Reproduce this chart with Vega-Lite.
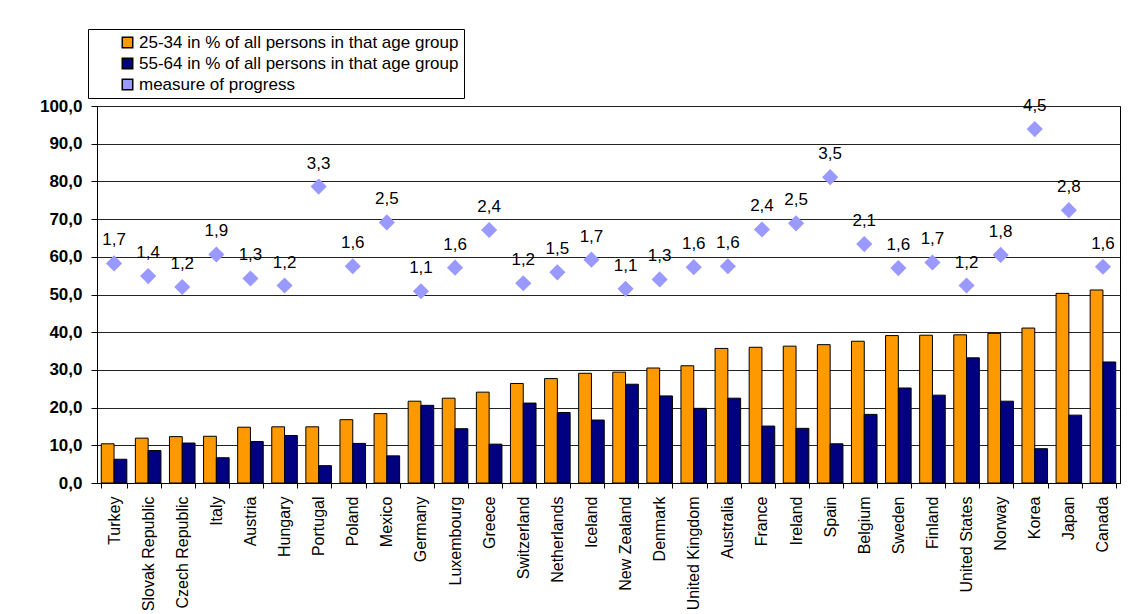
{
  "$schema": "https://vega.github.io/schema/vega-lite/v6.json",
  "autosize": "none",
  "width": 1023,
  "height": 377,
  "padding": {"left": 97, "top": 106, "right": 14, "bottom": 131},
  "background": "white",
  "config": {
    "locale": {"number": {"decimal": ",", "thousands": ".", "grouping": [3], "currency": ["", " €"]}},
    "font": "Liberation Sans",
    "view": {"stroke": "black", "strokeWidth": 1}
  },
  "data": {
    "values": [
      {"country": "Turkey", "a2534": 10.4, "a5564": 6.3, "progress": 1.66},
      {"country": "Slovak Republic", "a2534": 11.9, "a5564": 8.6, "progress": 1.39},
      {"country": "Czech Republic", "a2534": 12.3, "a5564": 10.6, "progress": 1.16},
      {"country": "Italy", "a2534": 12.4, "a5564": 6.7, "progress": 1.85},
      {"country": "Austria", "a2534": 14.8, "a5564": 11.0, "progress": 1.34},
      {"country": "Hungary", "a2534": 14.9, "a5564": 12.6, "progress": 1.19},
      {"country": "Portugal", "a2534": 14.9, "a5564": 4.6, "progress": 3.29},
      {"country": "Poland", "a2534": 16.8, "a5564": 10.5, "progress": 1.6},
      {"country": "Mexico", "a2534": 18.4, "a5564": 7.2, "progress": 2.53},
      {"country": "Germany", "a2534": 21.7, "a5564": 20.6, "progress": 1.07},
      {"country": "Luxembourg", "a2534": 22.5, "a5564": 14.4, "progress": 1.57},
      {"country": "Greece", "a2534": 24.1, "a5564": 10.3, "progress": 2.37},
      {"country": "Switzerland", "a2534": 26.4, "a5564": 21.2, "progress": 1.24},
      {"country": "Netherlands", "a2534": 27.7, "a5564": 18.7, "progress": 1.47},
      {"country": "Iceland", "a2534": 29.1, "a5564": 16.7, "progress": 1.74},
      {"country": "New Zealand", "a2534": 29.4, "a5564": 26.2, "progress": 1.12},
      {"country": "Denmark", "a2534": 30.5, "a5564": 23.1, "progress": 1.32},
      {"country": "United Kingdom", "a2534": 31.1, "a5564": 19.8, "progress": 1.58},
      {"country": "Australia", "a2534": 35.7, "a5564": 22.5, "progress": 1.6},
      {"country": "France", "a2534": 36.0, "a5564": 15.1, "progress": 2.38},
      {"country": "Ireland", "a2534": 36.3, "a5564": 14.5, "progress": 2.51},
      {"country": "Spain", "a2534": 36.7, "a5564": 10.4, "progress": 3.49},
      {"country": "Belgium", "a2534": 37.6, "a5564": 18.2, "progress": 2.07},
      {"country": "Sweden", "a2534": 39.1, "a5564": 25.2, "progress": 1.56},
      {"country": "Finland", "a2534": 39.2, "a5564": 23.3, "progress": 1.68},
      {"country": "United States", "a2534": 39.3, "a5564": 33.2, "progress": 1.19},
      {"country": "Norway", "a2534": 39.7, "a5564": 21.7, "progress": 1.84},
      {"country": "Korea", "a2534": 41.1, "a5564": 9.1, "progress": 4.51},
      {"country": "Japan", "a2534": 50.3, "a5564": 18.0, "progress": 2.79},
      {"country": "Canada", "a2534": 51.2, "a5564": 32.1, "progress": 1.59}
    ]
  },
  "encoding": {
    "x": {
      "field": "country",
      "type": "nominal",
      "sort": null,
      "scale": {"paddingInner": 0.25, "paddingOuter": 0.125},
      "axis": {
        "title": null,
        "labelAngle": -90,
        "labelFontSize": 16,
        "labelColor": "black",
        "labelPadding": 8,
        "tickBand": "extent",
        "tickSize": 5,
        "tickColor": "black",
        "domainColor": "black",
        "grid": false
      }
    }
  },
  "layer": [
    {
      "transform": [
        {"fold": ["a2534", "a5564"], "as": ["key", "val"]},
        {"calculate": "datum.key === 'a2534' ? '25-34 in % of all persons in that age group' : '55-64 in % of all persons in that age group'", "as": "series"}
      ],
      "mark": {"type": "bar", "stroke": "black", "strokeWidth": 1},
      "encoding": {
        "xOffset": {"field": "series", "type": "nominal", "scale": {"paddingInner": 0}},
        "y": {
          "field": "val",
          "type": "quantitative",
          "scale": {"domain": [0, 100]},
          "axis": {
            "title": null,
            "values": [0, 10, 20, 30, 40, 50, 60, 70, 80, 90, 100],
            "format": ".1f",
            "labelFontSize": 17,
            "labelFontWeight": "bold",
            "labelColor": "black",
            "labelPadding": 9,
            "tickSize": 6,
            "tickColor": "black",
            "domainColor": "black",
            "gridColor": "#222",
            "gridWidth": 1
          }
        },
        "color": {
          "field": "series",
          "type": "nominal",
          "scale": {
            "domain": ["25-34 in % of all persons in that age group", "55-64 in % of all persons in that age group", "measure of progress"],
            "range": ["#FF9900", "#000080", "#9999FF"]
          },
          "legend": {
            "title": null,
            "orient": "none",
            "legendX": -9,
            "legendY": -77,
            "labelFontSize": 17,
            "labelColor": "black",
            "labelOffset": 3,
            "rowPadding": 3,
            "padding": 5,
            "symbolOffset": 26,
            "strokeColor": "black",
            "fillColor": "white",
            "symbolSize": 110,
            "labelLimit": 420,
            "encode": {
              "symbols": {
                "update": {
                  "shape": {"signal": "datum.value === 'measure of progress' ? 'diamond' : 'square'"},
                  "stroke": {"signal": "datum.value === 'measure of progress' ? 'transparent' : 'black'"},
                  "strokeWidth": {"value": 1}
                }
              }
            }
          }
        }
      }
    },
    {
      "encoding": {
        "y": {
          "field": "progress",
          "type": "quantitative",
          "scale": {"domain": [-3, 5]},
          "axis": null
        }
      },
      "layer": [
        {
          "mark": {"type": "point", "shape": "diamond", "filled": true, "size": 260, "opacity": 1},
          "encoding": {
            "color": {"datum": "measure of progress", "type": "nominal"}
          }
        },
        {
          "mark": {"type": "text", "dy": -23, "fontSize": 17, "color": "black"},
          "encoding": {
            "text": {"field": "progress", "type": "quantitative", "format": ".1f"}
          }
        }
      ]
    }
  ],
  "resolve": {"scale": {"y": "independent"}}
}
